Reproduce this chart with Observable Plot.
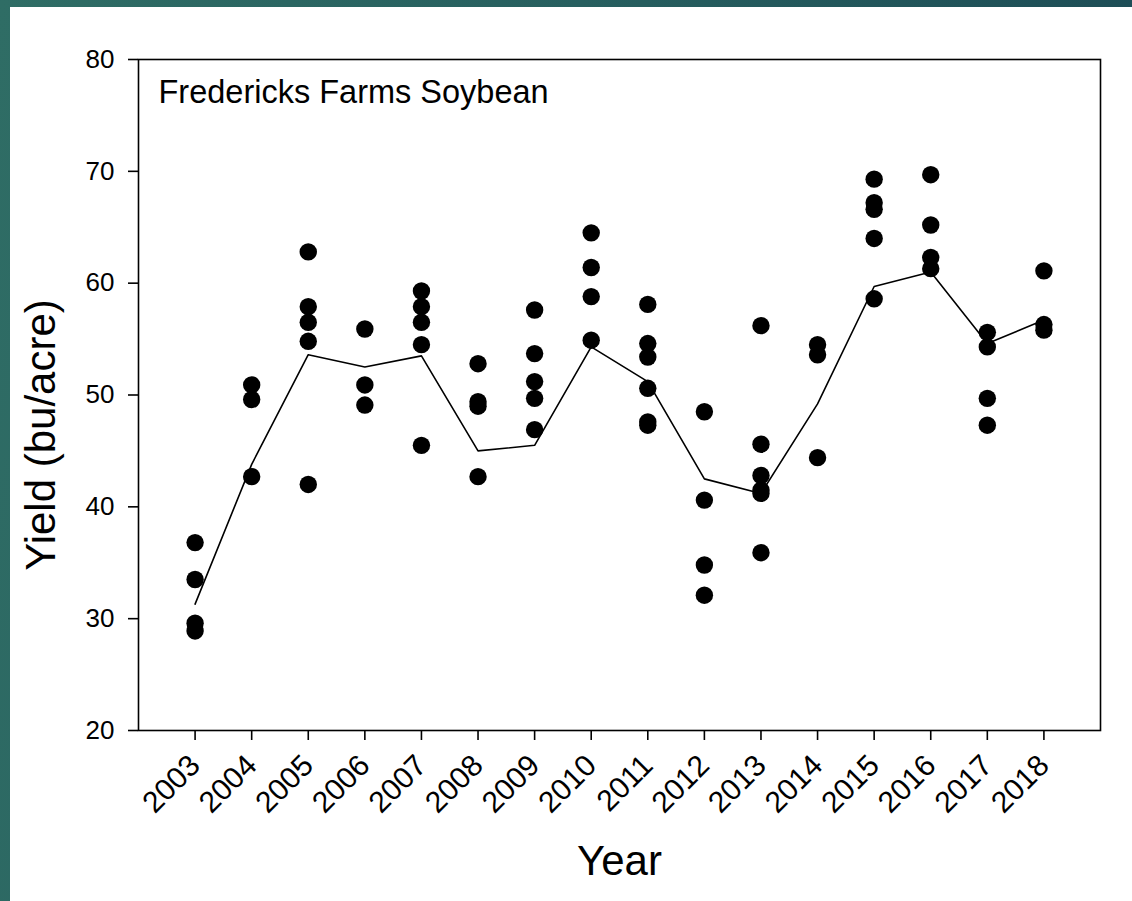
<!DOCTYPE html>
<html>
<head>
<meta charset="utf-8">
<script src="https://cdn.jsdelivr.net/npm/d3@7"></script>
<script src="https://cdn.jsdelivr.net/npm/@observablehq/plot@0.6"></script>
<style>
  html, body { margin: 0; padding: 0; }
  body {
    width: 1132px; height: 901px; overflow: hidden;
    background: linear-gradient(100deg, #2f6d65 0%, #275f5f 45%, #1b4954 100%);
    position: relative;
  }
  #panel {
    position: absolute; left: 10px; top: 7px;
    width: 1122px; height: 894px; background: #ffffff;
  }
  #panel svg { display: block; }
</style>
</head>
<body>
<div id="panel"></div>
<script>
// Harvest years and per-plot soybean yields (bu/acre)
const years = [2003, 2004, 2005, 2006, 2007, 2008, 2009, 2010, 2011, 2012, 2013, 2014, 2015, 2016, 2017, 2018];
const plotYields = [
  [36.8, 33.5, 29.6, 28.9],
  [50.9, 49.6, 42.7],
  [62.8, 57.9, 56.5, 54.8, 42.0],
  [55.9, 50.9, 49.1],
  [59.3, 57.9, 56.5, 54.5, 45.5],
  [52.8, 49.4, 49.0, 42.7],
  [57.6, 53.7, 51.2, 49.7, 46.9],
  [64.5, 61.4, 58.8, 54.9],
  [58.1, 54.6, 53.4, 50.6, 47.6, 47.3],
  [48.5, 40.6, 34.8, 32.1],
  [56.2, 45.6, 42.8, 41.5, 41.2, 35.9],
  [54.5, 53.6, 44.4],
  [69.3, 67.2, 66.6, 64.0, 58.6],
  [69.7, 65.2, 62.3, 61.3],
  [55.6, 54.3, 49.7, 47.3],
  [61.1, 56.3, 55.8]
];
// Yearly average yield drawn as the trend line
const meanYield = [31.3, 43.8, 53.6, 52.5, 53.5, 45.0, 45.5, 54.3, 51.2, 42.5, 41.2, 49.2, 59.7, 61.0, 54.6, 56.7];
const yTicks = [20, 30, 40, 50, 60, 70, 80];

const title = "Fredericks Farms Soybean";
const xTitle = "Year";
const yTitle = "Yield (bu/acre)";

const points = years.flatMap((yr, i) => plotYields[i].map(v => ({year: yr, yield: v})));
const trend = years.map((yr, i) => ({year: yr, yield: meanYield[i]}));

const font = "'Liberation Sans', Arial, Helvetica, sans-serif";

const chart = Plot.plot({
  width: 1122,
  height: 894,
  marginLeft: 128,
  marginRight: 32,
  marginTop: 52,
  marginBottom: 171,
  style: {fontFamily: font, fontSize: "26px", color: "#000", background: "#fff", overflow: "visible"},
  x: {type: "linear", domain: [2002, 2019]},
  y: {type: "linear", domain: [20, 80]},
  marks: [
    Plot.frame({stroke: "#000", strokeWidth: 1.6}),
    Plot.axisX(years, {
      tickSize: 10, tickPadding: 20, tickRotate: -45, strokeWidth: 1.6,
      tickFormat: d => String(d), fontSize: 30, label: null
    }),
    Plot.axisY(yTicks, {
      tickSize: 10, tickPadding: 14, strokeWidth: 1.6,
      tickFormat: d => String(d), fontSize: 26, label: null
    }),
    Plot.line(trend, {x: "year", y: "yield", stroke: "#000", strokeWidth: 1.6}),
    Plot.dot(points, {x: "year", y: "yield", r: 8.7, fill: "#000", stroke: "none"}),
    Plot.text([title], {
      frameAnchor: "top-left", textAnchor: "start", lineAnchor: "top",
      dx: 20, dy: 20, fontSize: 32.5, fill: "#000"
    }),
    Plot.text([xTitle], {
      frameAnchor: "bottom", lineAnchor: "bottom", dy: 144, fontSize: 42, fill: "#000"
    }),
    Plot.text([yTitle], {
      frameAnchor: "left", textAnchor: "middle", rotate: -90, lineAnchor: "middle",
      dx: -97, dy: 40, fontSize: 42, fill: "#000"
    })
  ]
});

document.getElementById("panel").appendChild(chart);
</script>
</body>
</html>
